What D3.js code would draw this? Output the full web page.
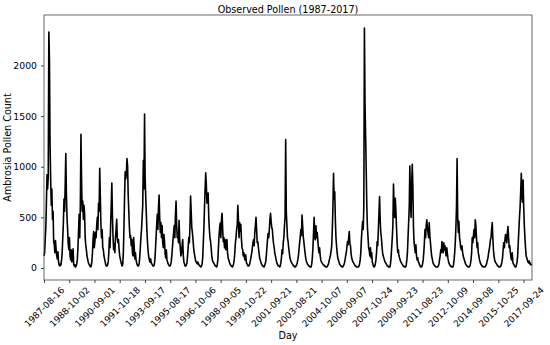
<!DOCTYPE html>
<html>
<head>
<meta charset="utf-8">
<script src="https://cdn.jsdelivr.net/npm/d3@7"></script>
<style>
  body { margin: 0; background: #fff; }
  svg { font-family: "DejaVu Sans", sans-serif; }
</style>
</head>
<body>
<div id="chart"></div>
<script>
// one season per year, 78 days each, sampled every 3rd day
const years = d3.range(1987, 2018);
const daysPerSeason = 78;
const sampleStep = 3;
const totalDays = 2418;

const seasonValues = [
  [120,150,280,400,650,920,780,900,2330,2050,1220,880,620,780,480,560,260,230,150,270,180,120,90,160,60,30],
  [20,40,30,80,150,300,450,680,560,820,1130,720,500,380,240,180,300,120,80,180,60,90,190,40,20,30],
  [10,20,40,80,200,350,530,300,620,1320,880,560,660,480,620,540,300,220,180,120,90,60,40,30,20,10],
  [20,60,150,280,360,200,260,350,300,420,500,380,640,560,985,700,420,300,380,200,180,120,90,60,30,20],
  [20,30,60,150,300,200,420,620,840,520,300,180,240,150,300,380,480,300,250,280,180,120,90,60,40,20],
  [40,150,400,700,950,880,940,1080,1010,720,560,400,300,320,220,280,150,120,300,200,90,150,80,50,30,20],
  [20,40,100,200,300,380,500,620,1060,780,1520,880,700,520,360,240,160,110,80,60,90,50,40,30,20,20],
  [30,80,180,300,420,530,380,600,720,500,350,450,300,420,250,200,330,260,140,100,180,80,60,40,30,20],
  [20,30,60,120,200,280,350,420,300,520,660,430,300,350,250,470,280,200,120,150,220,280,120,60,40,20],
  [20,30,50,120,200,300,250,420,710,560,400,350,280,200,150,120,80,60,50,40,60,40,30,20,20,10],
  [20,40,100,250,400,600,780,940,820,640,700,740,500,380,300,260,200,120,80,60,50,40,30,20,20,10],
  [30,80,200,320,400,445,300,480,540,380,260,300,200,280,180,250,280,150,100,80,60,40,30,20,20,10],
  [20,40,80,150,250,300,380,420,620,480,300,450,360,430,280,200,180,120,150,100,80,130,60,40,30,20],
  [20,30,50,80,120,150,200,250,280,220,350,420,500,380,250,260,200,150,100,80,60,40,30,20,20,10],
  [20,40,60,120,200,280,340,300,380,480,540,460,400,380,300,240,200,150,120,90,60,40,30,20,20,10],
  [20,50,100,180,140,250,300,420,500,1268,560,430,300,260,200,150,100,80,60,50,40,30,20,20,10,10],
  [20,30,50,80,120,180,250,300,380,320,524,420,310,260,200,150,100,70,50,40,30,20,20,10,10,10],
  [40,100,200,350,500,300,280,416,300,350,280,200,150,200,120,80,60,50,40,30,30,20,20,10,10,10],
  [20,30,50,80,100,130,170,220,380,600,934,680,753,480,300,220,150,100,80,60,40,30,20,20,10,10],
  [20,30,50,80,120,150,200,260,230,300,360,240,220,140,100,80,60,50,40,30,20,20,10,10,10,10],
  [20,40,80,150,280,380,458,380,600,2370,1620,1300,950,600,400,300,200,170,120,200,100,150,60,40,20,10],
  [20,40,80,150,260,220,380,540,705,480,350,300,220,150,120,100,80,60,50,40,30,20,20,10,10,10],
  [40,100,200,300,420,829,620,500,688,560,400,250,150,180,120,100,80,60,50,40,30,20,20,10,10,10],
  [30,80,150,300,450,600,1006,700,500,820,1025,800,400,250,200,150,230,120,80,100,60,50,30,20,10,10],
  [20,40,80,150,250,380,300,420,475,400,350,300,448,320,250,180,120,90,60,40,30,20,20,10,10,10],
  [10,20,40,80,120,180,150,262,200,150,248,180,220,160,120,200,140,90,60,40,30,20,20,10,10,10],
  [30,80,150,250,400,600,1080,500,350,460,300,260,200,180,220,160,120,100,80,60,40,30,20,20,10,10],
  [10,20,40,80,150,300,250,320,380,300,475,420,300,200,250,150,120,80,60,40,30,20,20,10,10,10],
  [10,20,30,50,80,100,150,180,220,280,300,380,448,300,180,120,80,60,50,40,30,20,20,10,10,10],
  [20,30,60,100,180,250,200,280,330,300,250,350,409,300,200,220,150,100,80,150,60,40,30,20,10,10],
  [30,60,120,250,380,500,600,750,934,700,650,868,600,420,300,200,120,100,80,60,50,70,40,50,30,40]
];

const tickDays = [0,125,250,375,500,625,750,875,1000,1125,1250,1375,1500,1625,1750,1875,2000,2125,2250,2375];
const tickLabels = ["1987-08-16","1988-10-02","1990-09-01","1991-10-18","1993-09-17","1995-08-17",
  "1996-10-06","1998-09-05","1999-10-22","2001-09-21","2003-08-21","2004-10-07","2006-09-07",
  "2007-10-24","2009-09-23","2011-08-23","2012-10-09","2014-09-08","2015-10-25","2017-09-24"];
const yTicks = [0, 500, 1000, 1500, 2000];

const points = [];
seasonValues.forEach((vals, s) => {
  vals.forEach((v, j) => points.push({ day: s * daysPerSeason + j * sampleStep, value: v }));
});

const width = 550, height = 345;
const margin = { top: 15, right: 18, bottom: 65, left: 44 };

const svg = d3.select("#chart").append("svg")
  .attr("width", width)
  .attr("height", height);

const x = d3.scaleLinear().domain([0, totalDays - 1]).range([margin.left, width - margin.right]);
const yMax = d3.max(points, d => d.value);
const pad = yMax * 0.05;
const y = d3.scaleLinear().domain([-pad, yMax + pad + 10]).range([height - margin.bottom, margin.top]);

// line
svg.append("path")
  .datum(points)
  .attr("fill", "none")
  .attr("stroke", "#000")
  .attr("stroke-width", 1.6)
  .attr("stroke-linejoin", "round")
  .attr("d", d3.line().x(d => x(d.day)).y(d => y(d.value)));

// frame
svg.append("rect")
  .attr("x", margin.left).attr("y", margin.top)
  .attr("width", width - margin.left - margin.right)
  .attr("height", height - margin.top - margin.bottom)
  .attr("fill", "none").attr("stroke", "#444").attr("stroke-width", 0.8);

// y axis
const yAxis = svg.append("g")
  .attr("transform", "translate(" + margin.left + ",0)")
  .call(d3.axisLeft(y).tickValues(yTicks).tickFormat(d3.format("d")).tickSize(3).tickPadding(4));
yAxis.select(".domain").remove();
yAxis.selectAll("line").attr("stroke", "#444");
yAxis.selectAll("text").attr("font-size", 9.3).attr("font-family", "DejaVu Sans").attr("fill", "#000");

// x axis
const xAxis = svg.append("g")
  .attr("transform", "translate(0," + (height - margin.bottom) + ")")
  .call(d3.axisBottom(x).tickValues(tickDays).tickFormat((d, i) => tickLabels[i]).tickSize(3));
xAxis.select(".domain").remove();
xAxis.selectAll("line").attr("stroke", "#444");
xAxis.selectAll("text")
  .attr("font-size", 9)
  .attr("font-family", "DejaVu Sans")
  .attr("fill", "#000")
  .attr("text-anchor", "middle")
  .attr("dominant-baseline", "central")
  .attr("dy", null)
  .attr("y", 0)
  .attr("transform", "translate(0,27) rotate(-45)");

// title and labels
svg.append("text")
  .attr("x", (margin.left + width - margin.right) / 2)
  .attr("y", 9)
  .attr("text-anchor", "middle")
  .attr("dominant-baseline", "central")
  .attr("font-size", 9.6)
  .text("Observed Pollen (1987-2017)");

svg.append("text")
  .attr("transform", "translate(7," + ((margin.top + height - margin.bottom) / 2) + ") rotate(-90)")
  .attr("text-anchor", "middle")
  .attr("dominant-baseline", "central")
  .attr("font-size", 9.6)
  .text("Ambrosia Pollen Count");

svg.append("text")
  .attr("x", (margin.left + width - margin.right) / 2)
  .attr("y", 335)
  .attr("text-anchor", "middle")
  .attr("dominant-baseline", "central")
  .attr("font-size", 9.6)
  .text("Day");
</script>
</body>
</html>
